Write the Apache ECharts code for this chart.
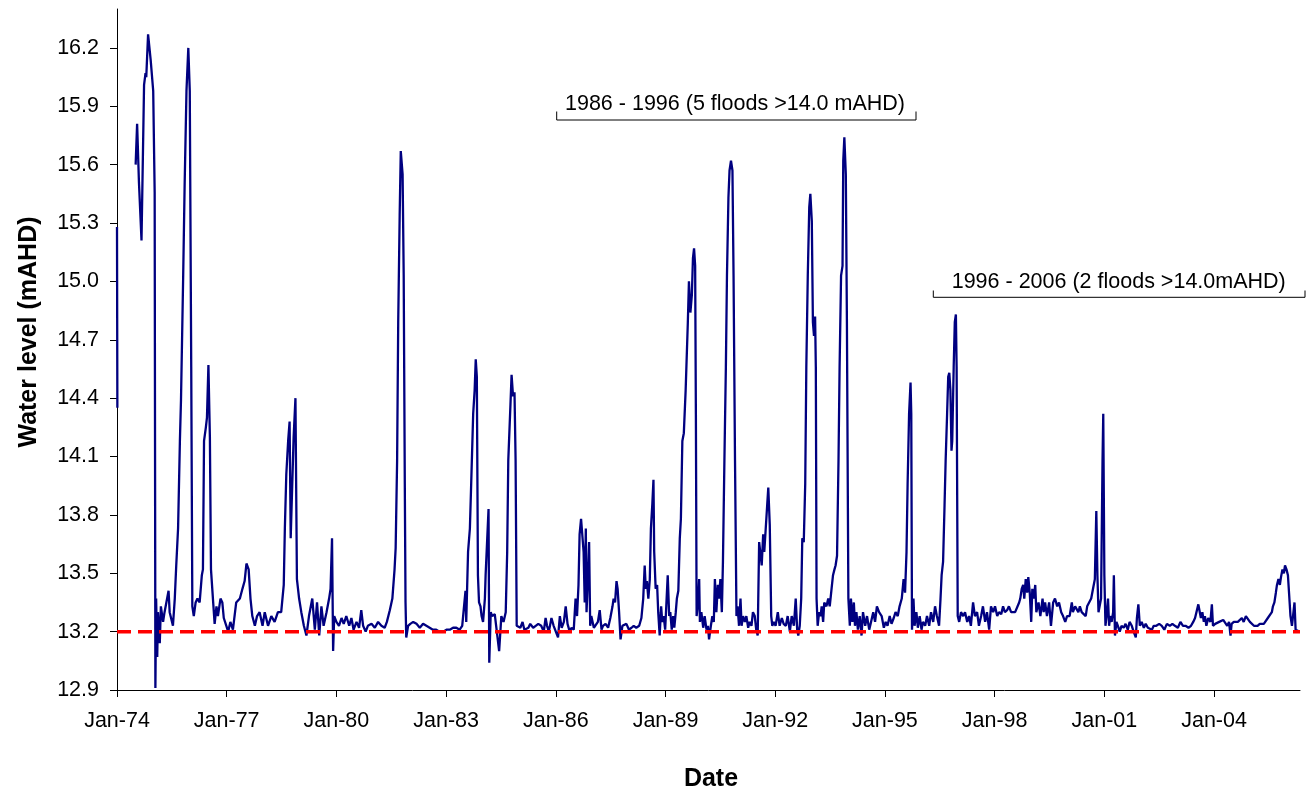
<!DOCTYPE html>
<html>
<head>
<meta charset="utf-8">
<script src="https://cdn.jsdelivr.net/npm/echarts@6/dist/echarts.min.js"></script>
<style>
  html, body { margin: 0; padding: 0; background: #ffffff; }
  #chart { width: 1308px; height: 791px; }
</style>
</head>
<body>
<div id="chart"></div>
<script>
// ---- Data (decimal year, water level mAHD) ----
const years = [
  1974.00, 1974.01, 1974.30, 1974.51, 1974.55, 1974.60, 1974.67, 1974.74, 1974.78, 1974.80,
  1974.85, 1974.89, 1974.92, 1974.96, 1974.99, 1975.03, 1975.05, 1975.07, 1975.10, 1975.12,
  1975.17, 1975.20, 1975.26, 1975.30, 1975.35, 1975.41, 1975.44, 1975.49, 1975.53, 1975.58,
  1975.62, 1975.67, 1975.72, 1975.75, 1975.81, 1975.85, 1975.90, 1975.95, 1975.99, 1976.03,
  1976.06, 1976.10, 1976.15, 1976.20, 1976.26, 1976.32, 1976.35, 1976.38, 1976.43, 1976.46,
  1976.50, 1976.54, 1976.57, 1976.63, 1976.67, 1976.72, 1976.76, 1976.83, 1976.88, 1976.92,
  1976.99, 1977.04, 1977.10, 1977.17, 1977.26, 1977.36, 1977.43, 1977.49, 1977.54, 1977.60,
  1977.65, 1977.70, 1977.77, 1977.83, 1977.90, 1977.98, 1978.04, 1978.13, 1978.22, 1978.31,
  1978.40, 1978.49, 1978.56, 1978.59, 1978.63, 1978.68, 1978.72, 1978.75, 1978.80, 1978.83,
  1978.88, 1978.92, 1978.98, 1979.04, 1979.11, 1979.18, 1979.25, 1979.34, 1979.41, 1979.47,
  1979.53, 1979.59, 1979.65, 1979.73, 1979.80, 1979.84, 1979.88, 1979.91, 1979.94, 1980.00,
  1980.07, 1980.14, 1980.20, 1980.27, 1980.35, 1980.41, 1980.47, 1980.55, 1980.62, 1980.68,
  1980.73, 1980.80, 1980.86, 1980.96, 1981.05, 1981.14, 1981.23, 1981.32, 1981.38, 1981.46,
  1981.53, 1981.59, 1981.62, 1981.66, 1981.69, 1981.73, 1981.76, 1981.79, 1981.81, 1981.84,
  1981.87, 1981.89, 1981.91, 1981.96, 1982.02, 1982.10, 1982.19, 1982.28, 1982.37, 1982.46,
  1982.55, 1982.64, 1982.73, 1982.82, 1982.92, 1983.01, 1983.10, 1983.19, 1983.28, 1983.37,
  1983.44, 1983.49, 1983.53, 1983.55, 1983.60, 1983.65, 1983.69, 1983.74, 1983.78, 1983.81,
  1983.84, 1983.87, 1983.90, 1983.94, 1983.97, 1984.01, 1984.06, 1984.08, 1984.12, 1984.16,
  1984.18, 1984.22, 1984.26, 1984.33, 1984.37, 1984.45, 1984.51, 1984.57, 1984.63, 1984.67,
  1984.70, 1984.76, 1984.79, 1984.83, 1984.87, 1984.90, 1984.93, 1984.98, 1985.03, 1985.09,
  1985.14, 1985.19, 1985.25, 1985.30, 1985.38, 1985.45, 1985.52, 1985.60, 1985.67, 1985.72,
  1985.76, 1985.81, 1985.88, 1985.94, 1986.00, 1986.06, 1986.11, 1986.16, 1986.22, 1986.27,
  1986.32, 1986.38, 1986.43, 1986.49, 1986.54, 1986.58, 1986.62, 1986.65, 1986.69, 1986.73,
  1986.76, 1986.79, 1986.82, 1986.84, 1986.88, 1986.91, 1986.94, 1986.97, 1987.04, 1987.09,
  1987.15, 1987.20, 1987.25, 1987.29, 1987.36, 1987.43, 1987.49, 1987.55, 1987.58, 1987.62,
  1987.66, 1987.69, 1987.73, 1987.77, 1987.82, 1987.87, 1987.93, 1988.00, 1988.07, 1988.13,
  1988.20, 1988.28, 1988.34, 1988.39, 1988.43, 1988.46, 1988.49, 1988.53, 1988.57, 1988.60,
  1988.64, 1988.67, 1988.69, 1988.73, 1988.77, 1988.80, 1988.84, 1988.88, 1988.91, 1988.95,
  1988.99, 1989.02, 1989.06, 1989.10, 1989.13, 1989.17, 1989.21, 1989.24, 1989.28, 1989.31,
  1989.35, 1989.39, 1989.42, 1989.46, 1989.50, 1989.55, 1989.61, 1989.64, 1989.68, 1989.72,
  1989.75, 1989.78, 1989.81, 1989.83, 1989.85, 1989.89, 1989.92, 1989.94, 1989.98, 1990.03,
  1990.07, 1990.12, 1990.16, 1990.19, 1990.24, 1990.28, 1990.32, 1990.35, 1990.39, 1990.43,
  1990.46, 1990.50, 1990.54, 1990.57, 1990.61, 1990.65, 1990.68, 1990.72, 1990.75, 1990.79,
  1990.83, 1990.86, 1990.90, 1990.94, 1990.97, 1991.01, 1991.05, 1991.08, 1991.12, 1991.17,
  1991.21, 1991.26, 1991.30, 1991.35, 1991.39, 1991.44, 1991.48, 1991.52, 1991.56, 1991.59,
  1991.63, 1991.67, 1991.70, 1991.74, 1991.78, 1991.81, 1991.85, 1991.89, 1991.92, 1991.96,
  1992.01, 1992.07, 1992.12, 1992.18, 1992.23, 1992.29, 1992.34, 1992.40, 1992.45, 1992.51,
  1992.56, 1992.60, 1992.63, 1992.67, 1992.71, 1992.74, 1992.78, 1992.82, 1992.85, 1992.89,
  1992.93, 1992.96, 1993.00, 1993.03, 1993.06, 1993.09, 1993.11, 1993.13, 1993.16, 1993.20,
  1993.24, 1993.27, 1993.31, 1993.34, 1993.40, 1993.45, 1993.49, 1993.54, 1993.58, 1993.62,
  1993.65, 1993.69, 1993.73, 1993.76, 1993.80, 1993.84, 1993.86, 1993.89, 1993.93, 1993.96,
  1994.00, 1994.04, 1994.07, 1994.11, 1994.15, 1994.18, 1994.22, 1994.26, 1994.31, 1994.36,
  1994.40, 1994.46, 1994.51, 1994.57, 1994.62, 1994.68, 1994.73, 1994.78, 1994.84, 1994.91,
  1994.97, 1995.02, 1995.07, 1995.13, 1995.18, 1995.24, 1995.29, 1995.35, 1995.40, 1995.46,
  1995.51, 1995.55, 1995.59, 1995.62, 1995.66, 1995.70, 1995.72, 1995.74, 1995.78, 1995.81,
  1995.86, 1995.90, 1995.95, 1996.00, 1996.04, 1996.10, 1996.15, 1996.21, 1996.26, 1996.32,
  1996.37, 1996.42, 1996.48, 1996.52, 1996.55, 1996.59, 1996.63, 1996.66, 1996.70, 1996.73,
  1996.76, 1996.79, 1996.82, 1996.84, 1996.88, 1996.91, 1996.94, 1996.96, 1996.99, 1997.03,
  1997.08, 1997.14, 1997.19, 1997.25, 1997.30, 1997.35, 1997.41, 1997.46, 1997.52, 1997.57,
  1997.63, 1997.68, 1997.74, 1997.79, 1997.85, 1997.90, 1997.96, 1998.01, 1998.07, 1998.12,
  1998.18, 1998.23, 1998.28, 1998.34, 1998.39, 1998.45, 1998.50, 1998.56, 1998.61, 1998.67,
  1998.70, 1998.74, 1998.78, 1998.81, 1998.85, 1998.89, 1998.92, 1998.96, 1999.00, 1999.03,
  1999.07, 1999.11, 1999.14, 1999.20, 1999.25, 1999.31, 1999.34, 1999.38, 1999.43, 1999.49,
  1999.54, 1999.60, 1999.65, 1999.71, 1999.76, 1999.82, 1999.87, 1999.93, 1999.98, 2000.05,
  2000.11, 2000.14, 2000.20, 2000.25, 2000.29, 2000.33, 2000.38, 2000.43, 2000.49, 2000.53,
  2000.58, 2000.64, 2000.69, 2000.74, 2000.78, 2000.81, 2000.84, 2000.87, 2000.91, 2000.95,
  2000.97, 2001.00, 2001.03, 2001.06, 2001.10, 2001.13, 2001.16, 2001.20, 2001.24, 2001.26,
  2001.29, 2001.33, 2001.37, 2001.42, 2001.47, 2001.53, 2001.58, 2001.64, 2001.69, 2001.75,
  2001.80, 2001.86, 2001.89, 2001.93, 2001.97, 2002.02, 2002.08, 2002.13, 2002.19, 2002.24,
  2002.30, 2002.35, 2002.42, 2002.50, 2002.57, 2002.64, 2002.71, 2002.79, 2002.86, 2002.93,
  2003.01, 2003.08, 2003.15, 2003.22, 2003.30, 2003.37, 2003.43, 2003.48, 2003.53, 2003.57,
  2003.61, 2003.64, 2003.68, 2003.72, 2003.75, 2003.79, 2003.84, 2003.90, 2003.94, 2003.97,
  2004.03, 2004.08, 2004.14, 2004.19, 2004.25, 2004.30, 2004.36, 2004.41, 2004.45, 2004.48,
  2004.54, 2004.59, 2004.65, 2004.70, 2004.76, 2004.81, 2004.87, 2004.92, 2004.98, 2005.03,
  2005.09, 2005.14, 2005.19, 2005.25, 2005.30, 2005.36, 2005.41, 2005.47, 2005.52, 2005.58,
  2005.61, 2005.65, 2005.69, 2005.72, 2005.76, 2005.80, 2005.83, 2005.87, 2005.91, 2005.94,
  2005.98, 2006.02, 2006.05, 2006.09, 2006.13, 2006.16, 2006.20, 2006.23, 2006.27, 2006.33
];
const levels = [
  15.28, 14.35, null,  15.60, 15.81, 15.51, 15.21, 16.01, 16.07, 16.05,
  16.27, 16.26, 16.14, 16.15, 15.98, 15.46, 12.91, 13.37, 13.07, 13.30,
  13.14, 13.33, 13.25, 13.30, 13.35, 13.41, 13.30, 13.31, 13.23, 13.37,
  13.54, 13.73, 14.18, 14.39, 15.03, 15.50, 15.98, 16.20, 15.98, 14.56,
  13.33, 13.28, 13.35, 13.37, 13.35, 13.49, 13.52, 14.18, 14.25, 14.30,
  14.57, 14.20, 13.52, 13.35, 13.24, 13.33, 13.28, 13.37, 13.35, 13.27,
  13.23, 13.20, 13.25, 13.21, 13.35, 13.37, 13.42, 13.46, 13.55, 13.52,
  13.37, 13.28, 13.23, 13.28, 13.30, 13.23, 13.30, 13.23, 13.28, 13.25,
  13.30, 13.30, 13.44, 13.73, 14.01, 14.18, 14.28, 13.68, 13.68, 14.20,
  14.40, 13.47, 13.37, 13.30, 13.23, 13.18, 13.28, 13.37, 13.21, 13.35,
  13.18, 13.33, 13.23, 13.30, 13.37, 13.42, 13.68, 13.10, 13.28, 13.25,
  13.23, 13.27, 13.24, 13.28, 13.23, 13.27, 13.21, 13.25, 13.22, 13.31,
  13.23, 13.20, 13.23, 13.24, 13.22, 13.25, 13.23, 13.22, 13.25, 13.31,
  13.37, 13.52, 13.63, 14.08, 14.79, 15.34, 15.67, 15.68, 15.55, 15.03,
  13.96, 13.35, 13.17, 13.23, 13.24, 13.25, 13.24, 13.22, 13.24, 13.23,
  13.22, 13.21, 13.21, 13.20, 13.20, 13.21, 13.21, 13.22, 13.22, 13.21,
  13.23, 13.33, 13.41, 13.25, 13.61, 13.73, 13.99, 14.32, 14.44, 14.60,
  14.51, 13.49, 13.35, 13.33, 13.28, 13.25, 13.37, 13.49, 13.50, 13.83,
  13.04, 13.30, 13.28, 13.29, 13.28, 13.10, 13.28, 13.25, 13.30, 13.61,
  14.08, 14.37, 14.52, 14.41, 14.43, 14.08, 13.23, 13.24, 13.22, 13.25,
  13.21, 13.20, 13.22, 13.24, 13.22, 13.23, 13.24, 13.23, 13.20, 13.27,
  13.23, 13.20, 13.27, 13.23, 13.20, 13.17, 13.28, 13.22, 13.25, 13.33,
  13.24, 13.20, 13.22, 13.21, 13.37, 13.28, 13.44, 13.70, 13.78, 13.79,
  13.61, 13.35, 13.73, 13.30, 13.49, 13.66, 13.23, 13.28, 13.22, 13.23,
  13.25, 13.31, 13.21, 13.23, 13.24, 13.22, 13.27, 13.33, 13.37, 13.35,
  13.46, 13.42, 13.30, 13.16, 13.23, 13.22, 13.24, 13.21, 13.22, 13.23,
  13.22, 13.23, 13.27, 13.37, 13.54, 13.42, 13.46, 13.37, 13.47, 13.73,
  13.86, 13.98, 13.61, 13.42, 13.44, 13.30, 13.18, 13.33, 13.25, 13.28,
  13.21, 13.33, 13.49, 13.28, 13.30, 13.21, 13.28, 13.22, 13.30, 13.37,
  13.41, 13.68, 13.78, 14.18, 14.22, 14.44, 14.79, 15.00, 14.84, 14.93,
  15.12, 15.17, 15.08, 14.32, 13.28, 13.35, 13.47, 13.25, 13.30, 13.22,
  13.28, 13.21, 13.23, 13.16, 13.23, 13.28, 13.25, 13.47, 13.30, 13.44,
  13.37, 13.47, 13.30, 13.56, 14.08, 14.56, 15.03, 15.43, 15.57, 15.62,
  15.57, 15.03, 14.08, 13.28, 13.33, 13.23, 13.37, 13.23, 13.28, 13.25,
  13.28, 13.22, 13.25, 13.23, 13.30, 13.28, 13.21, 13.18, 13.66, 13.61,
  13.54, 13.70, 13.61, 13.73, 13.85, 13.94, 13.75, 13.28, 13.23, 13.25,
  13.23, 13.30, 13.23, 13.27, 13.24, 13.23, 13.28, 13.20, 13.28, 13.23,
  13.37, 13.21, 13.18, 13.23, 13.37, 13.68, 13.66, 13.96, 14.56, 15.03,
  15.38, 15.45, 15.31, 14.79, 14.72, 14.82, 14.56, 13.37, 13.23, 13.30,
  13.28, 13.33, 13.25, 13.35, 13.33, 13.37, 13.33, 13.42, 13.49, 13.52,
  13.54, 13.59, 14.08, 14.56, 15.03, 15.08, 15.62, 15.74, 15.55, 14.79,
  13.37, 13.23, 13.37, 13.25, 13.35, 13.23, 13.30, 13.21, 13.28, 13.18,
  13.30, 13.23, 13.28, 13.21, 13.25, 13.30, 13.25, 13.33, 13.30, 13.28,
  13.22, 13.25, 13.23, 13.28, 13.24, 13.27, 13.30, 13.28, 13.33, 13.37,
  13.47, 13.40, 13.61, 13.96, 14.32, 14.48, 14.32, 13.21, 13.37, 13.23,
  13.30, 13.22, 13.28, 13.21, 13.25, 13.23, 13.28, 13.23, 13.30, 13.25,
  13.33, 13.28, 13.23, 13.37, 13.49, 13.56, 13.85, 14.08, 14.32, 14.51,
  14.53, 14.44, 14.13, 14.18, 14.56, 14.79, 14.83, 14.56, 13.28, 13.25,
  13.30, 13.28, 13.30, 13.25, 13.28, 13.23, 13.35, 13.28, 13.30, 13.23,
  13.28, 13.33, 13.25, 13.30, 13.21, 13.33, 13.30, 13.33, 13.28, 13.30,
  13.29, 13.33, 13.30, 13.31, 13.33, 13.30, 13.31, 13.30, 13.29, 13.35,
  13.37, 13.42, 13.44, 13.37, 13.47, 13.40, 13.48, 13.40, 13.25, 13.42,
  13.37, 13.44, 13.30, 13.35, 13.28, 13.37, 13.30, 13.35, 13.28, 13.35,
  13.23, 13.35, 13.37, 13.33, 13.35, 13.30, 13.28, 13.25, 13.28, 13.28,
  13.35, 13.30, 13.33, 13.34, 13.30, 13.33, 13.30, 13.30, 13.28, 13.33,
  13.33, 13.37, 13.42, 13.47, 13.82, 13.49, 13.30, 13.33, 13.37, 14.08,
  14.32, 13.49, 13.23, 13.28, 13.37, 13.23, 13.28, 13.25, 13.30, 13.49,
  13.18, 13.25, 13.23, 13.20, 13.23, 13.22, 13.24, 13.21, 13.25, 13.23,
  13.20, 13.17, 13.27, 13.34, 13.23, 13.25, 13.22, 13.24, 13.22, 13.23,
  13.21, 13.23, 13.23, 13.24, 13.23, 13.21, 13.24, 13.23, 13.24, 13.23,
  13.22, 13.25, 13.23, 13.23, 13.22, 13.23, 13.25, 13.27, 13.28, 13.34,
  13.30, 13.27, 13.30, 13.25, 13.28, 13.23, 13.27, 13.25, 13.34, 13.23,
  13.24, 13.23, 13.25, 13.24, 13.26, 13.25, 13.23, 13.25, 13.18, 13.24,
  13.25, 13.24, 13.25, 13.24, 13.27, 13.25, 13.28, 13.27, 13.25, 13.24,
  13.23, 13.24, 13.23, 13.24, 13.24, 13.24, 13.25, 13.27, 13.28, 13.30,
  13.33, 13.35, 13.40, 13.44, 13.47, 13.44, 13.48, 13.52, 13.50, 13.54,
  13.52, 13.49, 13.40, 13.28, 13.23, 13.24, 13.35, 13.21, 13.20, 13.20
];

// Reference (minimum) level line
const thresholdLevel = 13.2;

// Axis ticks
const yTicks = [12.9, 13.2, 13.5, 13.8, 14.1, 14.4, 14.7, 15.0, 15.3, 15.6, 15.9, 16.2];
const xTicks = [1974, 1977, 1980, 1983, 1986, 1989, 1992, 1995, 1998, 2001, 2004];
const xMin = 1974, xMax = 2006.35;
const yMin = 12.9, yMax = 16.4;

// Text
const yTitle = 'Water level (mAHD)';
const xTitle = 'Date';
const noteLabels = ['1986 - 1996 (5 floods >14.0 mAHD)', '1996 - 2006 (2 floods >14.0mAHD)'];

const FONT = "'Liberation Sans', Arial, Helvetica, sans-serif";

const levelData = years.map((y, i) => [y, levels[i] === null ? '-' : levels[i]]);

const chart = echarts.init(document.getElementById('chart'), null, { renderer: 'canvas' });

chart.setOption({
  animation: false,
  backgroundColor: '#ffffff',
  grid: { left: 117, top: 9, right: 8, bottom: 101, containLabel: false, outerBoundsMode: 'none' },
  xAxis: {
    type: 'value', min: xMin, max: xMax,
    axisLine: { show: true, onZero: false, lineStyle: { color: '#000', width: 1 } },
    axisTick: { show: true, inside: false, length: 7, customValues: xTicks, lineStyle: { color: '#000', width: 1 } },
    axisLabel: {
      customValues: xTicks, margin: 20, color: '#000', fontSize: 21.5, fontFamily: FONT,
      formatter: v => 'Jan-' + String(Math.round(v) % 100).padStart(2, '0')
    },
    splitLine: { show: false }
  },
  yAxis: {
    type: 'value', min: yMin, max: yMax,
    axisLine: { show: true, lineStyle: { color: '#000', width: 1 } },
    axisTick: { show: true, inside: false, length: 7, customValues: yTicks, lineStyle: { color: '#000', width: 1 } },
    axisLabel: {
      customValues: yTicks, margin: 18, color: '#000', fontSize: 21.5, fontFamily: FONT,
      formatter: v => Number(v).toFixed(1)
    },
    splitLine: { show: false }
  },
  series: [
    {
      name: 'Water level', type: 'line', data: levelData, showSymbol: false, connectNulls: false,
      lineStyle: { color: '#000080', width: 2.3 }, z: 2
    },
    {
      name: 'Reference', type: 'line', data: [[xMin, thresholdLevel], [xMax, thresholdLevel]],
      showSymbol: false, lineStyle: { color: '#ff0000', width: 3.5, type: [14, 7] }, z: 3
    }
  ],
  graphic: [
    { type: 'text', x: 29.5, y: 332, rotation: Math.PI / 2,
      style: { text: yTitle, font: 'bold 25px ' + FONT, fill: '#000', align: 'center', verticalAlign: 'middle' } },
    { type: 'text', x: 711, y: 779.5,
      style: { text: xTitle, font: 'bold 25px ' + FONT, fill: '#000', align: 'center', verticalAlign: 'middle' } },
    { type: 'polyline', shape: { points: [[556.7, 111.5], [556.7, 120], [916, 120], [916, 111.5]] },
      style: { stroke: '#000', lineWidth: 1, fill: null } },
    { type: 'text', x: 565, y: 104.5,
      style: { text: noteLabels[0], font: '21.5px ' + FONT, fill: '#000', align: 'left', verticalAlign: 'middle' } },
    { type: 'polyline', shape: { points: [[933.3, 290.5], [933.3, 297.3], [1305, 297.3], [1305, 290.5]] },
      style: { stroke: '#000', lineWidth: 1, fill: null } },
    { type: 'text', x: 951.7, y: 281.8,
      style: { text: noteLabels[1], font: '21.5px ' + FONT, fill: '#000', align: 'left', verticalAlign: 'middle' } }
  ]
});
</script>
</body>
</html>
